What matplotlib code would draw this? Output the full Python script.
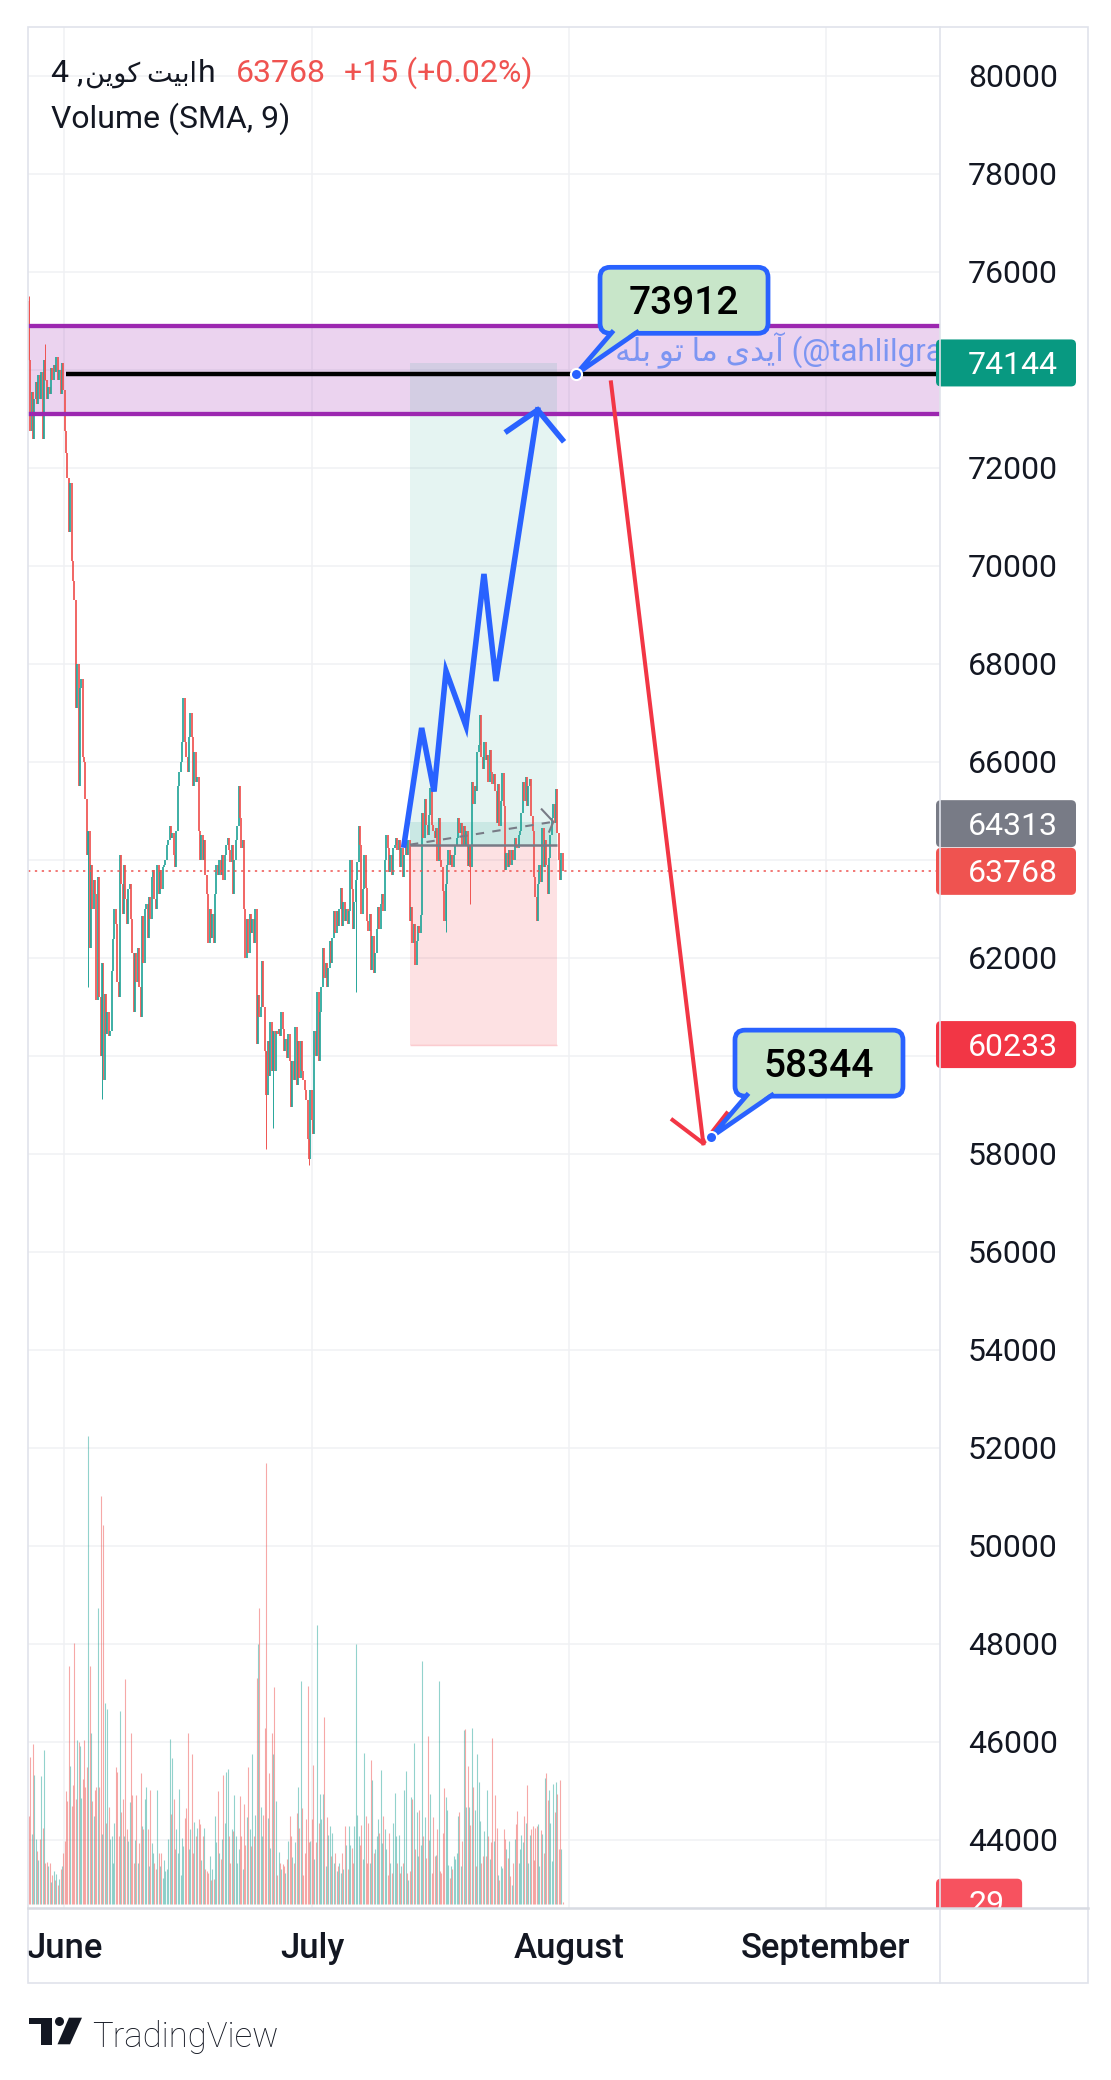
import numpy as np
import matplotlib.pyplot as plt
from matplotlib.patches import FancyBboxPatch, Polygon, Rectangle, Circle
from matplotlib.lines import Line2D
from matplotlib.transforms import IdentityTransform, Bbox

plt.rcParams['font.family'] = ['Roboto', 'DejaVu Sans']

W, H = 1111, 2080
PIX = IdentityTransform()
UP, DOWN = '#26a69a', '#ef5350'
INK = '#131722'

# 4h candles, x counted in days from 1 June
first_open = 75400
closes = [
    74200, 72750, 73550, 72600, 73400, 73750,
    73300, 73900, 73400, 73950, 72600, 74200,
    73800, 73400, 73650, 73500, 74050, 73800,
    74100, 73950, 74270, 73800, 74000, 73500,
    74150, 73600, 72750, 72300, 71800, 70700,
    71700, 70100, 69700, 69300, 67100, 68000,
    65500, 67500, 67700, 66100, 66000, 65250,
    64100, 64600, 62200, 63900, 63000, 63600,
    63300, 61150, 63650, 61200, 60000, 61900,
    59500, 61260, 60450, 60900, 60400, 60500,
    61730, 62380, 63000, 62700, 61500, 61200,
    64100, 63500, 62900, 63900, 63200, 62700,
    63400, 63500, 62800, 62100, 60900, 62100,
    61500, 62200, 61400, 60800, 62850, 61900,
    63000, 63100, 62400, 63250, 62800, 63650,
    63800, 63200, 63000, 63900, 63300, 63800,
    63400, 63850, 63900, 64000, 64300, 64400,
    64700, 64450, 64550, 64100, 63850, 64600,
    65500, 65800, 66000, 66400, 67300, 66400,
    66100, 65800, 66500, 67000, 66500, 65500,
    66200, 65600, 65700, 64600, 64000, 64500,
    64000, 64400, 63700, 63300, 62300, 63000,
    62400, 62900, 62300, 63300, 63900, 63700,
    64000, 63700, 64100, 63600, 64100, 64300,
    64450, 64200, 63950, 64300, 63300, 64000,
    64400, 64700, 65500, 64850, 64250, 64400,
    63000, 62000, 62800, 62100, 62900, 62500,
    62800, 62300, 63000, 60250, 61250, 60800,
    61000, 61930, 61000, 60100, 59200, 60300,
    59600, 60700, 59700, 60500, 59700, 60500,
    60450, 60550, 60400, 60900, 60550, 60100,
    60350, 59960, 60450, 59900, 58950, 59900,
    59500, 60600, 59400, 60300, 59550, 60300,
    59700, 59500, 59300, 59100, 58300, 57900,
    59300, 58700, 58400, 60500, 60000, 61300,
    59900, 60900, 61400, 62200, 61600, 61900,
    61400, 61800, 62340, 61900, 62400, 62950,
    62500, 62950, 62650, 63000, 63430, 62650,
    63150, 62750, 63000, 62700, 62950, 64000,
    63400, 62600, 63150, 63600, 63950, 64700,
    64300, 62900, 63400, 64100, 63430, 62750,
    62550, 62900, 61750, 62450, 61700, 62100,
    62600, 63050, 62600, 63100, 63300, 62950,
    64000, 64500, 64250, 63750, 64100, 63700,
    64250, 64300, 64450, 64200, 64400, 63850,
    64250, 63650, 64100, 64380, 64100, 64400,
    62750, 63050, 62300, 62700, 61850, 62350,
    62650, 62500, 62880, 64960, 64450, 65250,
    64720, 64500, 64920, 65470, 64720, 64600,
    64450, 64650, 63970, 64850, 64000, 63850,
    63360, 62750, 63500, 63900, 64210, 63900,
    64100, 63850, 64100, 64300, 64450, 64860,
    64550, 64750, 64300, 64700, 64300, 64600,
    63870, 64300, 63850, 65600, 65150, 65500,
    65400, 66200, 66350, 66950, 66100, 65850,
    66400, 66050, 66150, 65600, 66250, 65800,
    65550, 65750, 65400, 64750, 65550, 64700,
    65200, 65780, 65100, 63800, 64150, 63850,
    64200, 63900, 64200, 64000, 64450, 64300,
    64250, 64500, 64600, 64950, 65600, 65200,
    65700, 65100, 65500, 65650, 64900, 64600,
    63650, 63250, 62750, 63500, 63900, 63550,
    64650, 63850, 64400, 63900, 63300, 64050,
    64500, 64850, 65150, 64750, 65450, 64550,
    64000, 63600, 64150, 63768,
]
volumes = [
    1500, 2500, 1200, 2720, 2200, 1100,
    900, 750, 1100, 2180, 1300, 2630,
    700, 720, 650, 700, 380, 500,
    560, 400, 510, 330, 420, 600,
    650, 860, 1080, 1930, 1750, 4050,
    2350, 1670, 2030, 4450, 1780, 2800,
    2760, 2690, 1810, 2130, 2800, 2000,
    2340, 7980, 4060, 2920, 1750, 1500,
    1950, 2000, 5040, 2000, 6960, 1200,
    6460, 3420, 1380, 3320, 1660, 1100,
    1150, 700, 1380, 2330, 2250, 1150,
    3290, 1560, 1790, 1150, 3840, 1270,
    1070, 1740, 2920, 1860, 700, 1090,
    1860, 700, 1040, 2230, 1330, 1270,
    1780, 2000, 1270, 640, 1950, 1040,
    870, 700, 590, 1950, 870, 640,
    870, 440, 750, 560, 600, 1100,
    2810, 1530, 2490, 1780, 930, 1270,
    870, 1960, 500, 1130, 990, 1470,
    1640, 2920, 930, 1270, 2550, 870,
    1390, 1150, 1300, 1440, 1360, 750,
    1160, 1300, 600, 560, 530, 810,
    410, 590, 420, 1500, 1050, 1920,
    870, 760, 1100, 2190, 1380, 2250,
    2300, 1150, 700, 1270, 1240, 1850,
    1150, 700, 930, 1840, 1150, 590,
    1710, 1000, 1480, 2330, 1280, 980,
    2560, 1150, 1520, 3850, 4430, 5040,
    1660, 1150, 1520, 3000, 7520, 1460,
    2240, 960, 2920, 2550, 3700, 1760,
    500, 880, 700, 590, 680, 640,
    530, 760, 1070, 1500, 1150, 800,
    700, 1050, 1550, 2000, 1300, 3800,
    1640, 500, 870, 1440, 3720, 1050,
    1070, 1440, 2360, 760, 1050, 4750,
    1380, 1870, 1440, 1880, 3180, 640,
    1490, 1180, 1330, 810, 1210, 700,
    870, 560, 640, 700, 530, 870,
    600, 1330, 1000, 590, 1320, 1000,
    960, 700, 1320, 4430, 1520, 1160,
    1010, 1350, 760, 2580, 1500, 700,
    1380, 700, 2460, 2120, 870, 930,
    1150, 1440, 1210, 2290, 1040, 1500,
    1270, 930, 500, 1210, 700, 530,
    1380, 1890, 1150, 700, 1180, 530,
    640, 700, 1950, 2260, 530, 415,
    560, 1830, 1780, 2750, 930, 1560,
    810, 1600, 1000, 4140, 1150, 1480,
    780, 2860, 1090, 1880, 530, 1490,
    810, 840, 1270, 3800, 560, 530,
    1210, 1980, 1830, 1600, 670, 440,
    640, 590, 820, 760, 870, 1500,
    1560, 640, 1070, 2960, 2990, 1660,
    2350, 1660, 1350, 3000, 2000, 1600,
    640, 2560, 2070, 1410, 700, 810,
    1250, 810, 1950, 1150, 760, 1050,
    2830, 1070, 1860, 1290, 500, 415,
    640, 620, 1270, 1100, 940, 780,
    1070, 480, 330, 700, 1100, 1360,
    1590, 700, 930, 1180, 1050, 1500,
    1380, 2020, 700, 1180, 1270, 1320,
    750, 1300, 1330, 1360, 650, 1260,
    1200, 860, 2150, 2240, 1770, 1950,
    1380, 730, 2040, 1570, 2080, 1870,
    930, 2120, 940, 29,
]
# long wicks that stick out of the bodies
wick_idx = [0, 12, 43, 53, 172, 177, 203, 237, 302, 320]
wick_val = [75500, 74540, 61400, 59120, 58100, 58530, 57780, 61300, 62540, 63100]
start_day = -4.25
step = 1 / 6

month_days = [0, 30, 61, 92]
month_names = ['June', 'July', 'August', 'September']
price_ticks = list(range(44000, 80001, 2000))

last_price = 63768
zone_low, zone_high = 73100, 74900
key_level, key_start = 73912, 0.24
entry, target, stop = 64313, 74144, 60233
box_left, box_right = 41.79, 59.54
pos_end = (59.1, 64780)

# hand drawn blue projection and red projection
path_days = [41.06, 43.2, 44.69, 46.14, 48.55, 50.72, 52.17, 57.21]
path_prices = [64306, 66694, 65398, 67857, 66735, 69837, 67653, 73184]
path_wing_days = [53.54, 57.21, 60.18]
path_wing_prices = [72755, 73184, 72578]
red_days = [66.06, 77.21]
red_prices = [73747, 58218]
red_wing_days = [73.5, 77.21, 80.04]
red_wing_prices = [58694, 58218, 58831]
callouts = [(61.84, 73912, '73912'), (78.14, 58344, '58344')]

# Persian text in visual order (presentation forms)
symbol_parts = ['4 ,', '\ufee6\ufbfe\ufeee\ufb90 \ufe96\ufbff\ufe91\ufe8d', 'h']
watermark = '\ufeea\ufee0\ufe91 \ufeee\ufe97 \ufe8e\ufee3 \ufbfc\ufeaa\ufbfe\ufe81 (@tahlilgram)'


def fx(x):
    return x / W


def fy(y):
    return 1 - y / H


fig = plt.figure(figsize=(W / 100, H / 100), dpi=100)
fig.patch.set_facecolor('white')
L, R, T, B = 28, 940, 27, 1908
ax = fig.add_axes([L / W, 1 - B / H, (R - L) / W, (B - T) / H])
ax.set_xlim(-4.35, 105.8)
ax.set_ylim(42612, 81000)
for s in ax.spines.values():
    s.set_visible(False)
ax.set_xticks(month_days)
ax.set_xticklabels([])
ax.set_yticks(price_ticks)
ax.set_yticklabels([])
ax.tick_params(length=0)
ax.grid(True, color='#f0f1f4', lw=1.1)
ax.set_axisbelow(True)

ax2 = ax.twinx()
ax2.set_ylim(-70, 32000)
ax2.axis('off')

# candles
n = len(closes)
x = start_day + step * np.arange(n)
c = np.array(closes, float)
o = np.concatenate([[first_open], c[:-1]])
up = c >= o
cols = np.where(up, UP, DOWN)
lo = np.minimum(o, c)
hi = np.maximum(np.maximum(o, c), lo + 40)
ax.vlines(x, lo, hi, colors=cols, lw=1.25, zorder=3)
for i, v in zip(wick_idx, wick_val):
    ax.vlines(x[i], min(v, lo[i]), max(v, hi[i]), colors=cols[i], lw=0.7, zorder=3)

vcols = np.where(up, '#26a69a80', '#ef535080')
ax2.vlines(x, 0, volumes, colors=vcols, lw=0.8)

# support / resistance zone
ax.axhspan(zone_low, zone_high, color='#9c27b0', alpha=0.2, lw=0, zorder=1)
ax.axhline(zone_low, color='#9c27b0', lw=3.1, zorder=4)
ax.axhline(zone_high, color='#9c27b0', lw=3.1, zorder=4)
ax.hlines(key_level, key_start, 105.8, color='black', lw=3.2, zorder=5)

# long position tool
bx = [box_left, box_right]
ax.fill_between(bx, entry, target, color='#089981', alpha=0.1, lw=0, zorder=2)
ax.fill_between(bx, stop, entry, color='#f23645', alpha=0.15, lw=0, zorder=2)
ax.fill_between(bx, entry, pos_end[1], color='#089981', alpha=0.12, lw=0, zorder=2)
ax.hlines(stop, box_left, box_right, color='#f23645', alpha=0.25, lw=1, zorder=2)
ax.hlines(entry, box_left, box_right, color='#787b86', lw=1.8, zorder=4)
ax.plot([box_left, pos_end[0]], [entry, pos_end[1]], ls=(0, (4, 4)), color='#787b86', lw=1.5, zorder=4)
ax.plot([57.7, pos_end[0], 58.6], [65034, pos_end[1], 64578], color='#787b86', lw=1.5, zorder=4)

ax.axhline(last_price, color='#ef5350', lw=1.1, ls=(0, (1.5, 3)), zorder=4)

ax.text(66.5, 74204, watermark, fontsize=22.5, color='#7c95f2', clip_on=True, zorder=5, va='baseline')

ax.plot(path_days, path_prices, color='#2962ff', lw=4.0, solid_joinstyle='miter', zorder=6)
ax.plot(path_wing_days, path_wing_prices, color='#2962ff', lw=4.0, solid_joinstyle='miter', zorder=6)
ax.plot(red_days, red_prices, color='#f23645', lw=2.9, zorder=6)
ax.plot(red_wing_days, red_wing_prices, color='#f23645', lw=2.9, zorder=6)

# month labels
for d, name in zip(month_days, month_names):
    ax.annotate(name, xy=(d, 0), xycoords=('data', 'axes fraction'), xytext=(0, -50),
                textcoords='offset pixels', ha='center', va='baseline', fontsize=25,
                fontweight='medium', color=INK, annotation_clip=False)

# callouts
for d, p, label in callouts:
    X, Y = ax.transData.transform((d, p))
    fig.add_artist(FancyBboxPatch((X + 24, Y + 41), 168, 66, boxstyle='round,pad=0,rounding_size=10',
                                  fc='#c8e6c9', ec='#2962ff', lw=3.4, transform=PIX, zorder=8))
    fig.add_artist(Polygon([(X + 36, Y + 45), (X + 61, Y + 45), (X, Y)], closed=True,
                           fc='#c8e6c9', ec='none', transform=PIX, zorder=9))
    fig.add_artist(Line2D([X + 36, X, X + 61], [Y + 42, Y, Y + 42], color='#2962ff', lw=3.4,
                          solid_joinstyle='miter', transform=PIX, zorder=10))
    fig.add_artist(Line2D([X], [Y], marker='o', ms=8, mfc='#2962ff', mec='white', mew=1.5,
                          transform=PIX, zorder=11))
    fig.text(X + 108, Y + 60, label, fontsize=28, fontweight='medium', color='black',
             ha='center', va='baseline', transform=PIX, zorder=11)

renderer = fig.canvas.get_renderer()
covered = []


def badge(value, color, shift=0, axis=None, clip=False):
    a = ax if axis is None else axis
    Y = a.transData.transform((0, value))[1] + shift
    t = fig.text(968, Y - 11, str(value), fontsize=23, color='white', va='baseline',
                 transform=PIX, zorder=21)
    w = t.get_window_extent(renderer).width
    box = FancyBboxPatch((936, Y - 23.5), 32 + w + 18, 47, boxstyle='round,pad=0,rounding_size=5',
                         fc=color, ec='none', transform=PIX, zorder=20)
    fig.add_artist(box)
    covered.append((Y - 23.5, Y + 23.5))
    if clip:
        cb = Bbox([[930, H - B], [1100, H]])
        for art in (t, box):
            art.set_clip_box(cb)
            art.set_clip_on(True)


badge(target, '#089981')
badge(entry, '#787b86', shift=21)
badge(last_price, '#ef5350')
badge(stop, '#f23645')
badge(volumes[-1], '#f7525f', axis=ax2, clip=True)

# price axis labels (those under a badge are hidden, as on the chart)
for v in price_ticks:
    Y = ax.transData.transform((0, v))[1]
    if any(lo_ - 8 < Y < hi_ + 8 for lo_, hi_ in covered):
        continue
    fig.text(968, Y - 11, str(v), fontsize=23, color=INK, va='baseline', transform=PIX, zorder=5)

# header: symbol name laid out piece by piece
hx = 51
for part, size, gap in zip(symbol_parts, [23, 19.5, 23], [2, 0, 0]):
    t = fig.text(hx, H - 81.5, part, fontsize=size, color=INK, va='baseline', transform=PIX)
    hx += t.get_window_extent(renderer).width + gap
fig.text(fx(236), fy(81.5), str(last_price), fontsize=23, color='#ef5350', va='baseline')
fig.text(fx(344), fy(81.5), '+15 (+0.02%)', fontsize=23, color='#ef5350', va='baseline')
fig.text(fx(51), fy(128), 'Volume (SMA, 9)', fontsize=23, color=INK, va='baseline')

# frame and pane dividers
fig.add_artist(Rectangle((28, H - 1983), 1060, 1956, fc='none', ec='#e0e3eb', lw=1.2, transform=PIX, zorder=30))
fig.add_artist(Line2D([940, 940], [H - 1983, H - 27], color='#e0e3eb', lw=1.2, transform=PIX, zorder=30))
fig.add_artist(Line2D([28, 1088], [H - B, H - B], color='#d8dbe2', lw=1.8, transform=PIX, zorder=30))

# TradingView logo
fig.add_artist(Rectangle((28.5, H - 2024), 23, 6.5, fc=INK, ec='none', transform=PIX))
fig.add_artist(Rectangle((40.5, H - 2044.5), 11, 27, fc=INK, ec='none', transform=PIX))
fig.add_artist(Circle((59.5, H - 2021.5), 4.5, fc=INK, ec='none', transform=PIX))
fig.add_artist(Polygon([(69, H - 2017.7), (82, H - 2017.7), (70, H - 2044.3), (57.5, H - 2044.3)],
                       closed=True, fc=INK, ec='none', transform=PIX))
fig.text(fx(92), fy(2046.5), 'TradingView', fontsize=25, fontweight='light', color=INK, va='baseline')

fig.savefig('out.png', dpi=100)
